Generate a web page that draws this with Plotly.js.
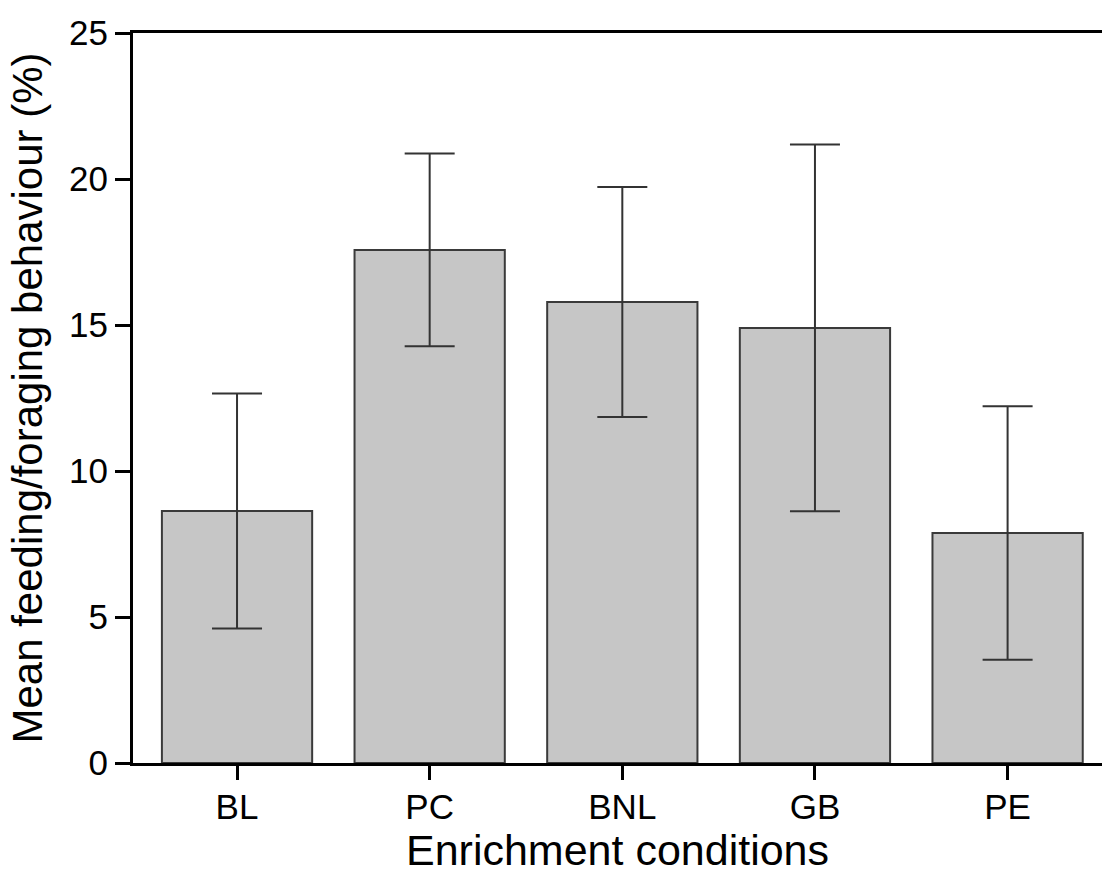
<!DOCTYPE html>
<html>
<head>
<meta charset="utf-8">
<script src="https://cdn.plot.ly/plotly-3.0.1.min.js"></script>
<style>html,body{margin:0;padding:0;background:#fff;}#chart{width:1102px;height:876px;}</style>
</head>
<body>
<div id="chart"></div>
<script>
const categories = ["BL", "PC", "BNL", "GB", "PE"];
const meanValues = [8.63, 17.57, 15.79, 14.90, 7.88];
const errorValues = [4.02, 3.30, 3.94, 6.28, 4.34];

const trace = {
  type: "bar",
  x: categories,
  y: meanValues,
  width: 0.78,
  marker: { color: "#c6c6c6", line: { color: "#3a3a3a", width: 2 } },
  error_y: { type: "data", array: errorValues, visible: true, color: "#333333", thickness: 2, width: 25 },
  hoverinfo: "none"
};

const fontFam = "Liberation Sans, Arial, Helvetica, sans-serif";

const layout = {
  width: 1102,
  height: 876,
  margin: { l: 133, r: 0, t: 33, b: 113, pad: 0 },
  paper_bgcolor: "#ffffff",
  plot_bgcolor: "#ffffff",
  showlegend: false,
  bargap: 0.22,
  xaxis: {
    type: "category",
    range: [-0.54, 4.49],
    showline: true,
    linecolor: "#000",
    linewidth: 3,
    mirror: true,
    ticks: "outside",
    ticklen: 14,
    tickwidth: 3,
    tickcolor: "#000",
    ticklabelstandoff: -3,
    showgrid: false,
    zeroline: false,
    tickfont: { family: fontFam, size: 35, color: "#000" },
    title: { text: "Enrichment conditions", font: { family: fontFam, size: 43, color: "#000" }, standoff: 8 }
  },
  yaxis: {
    range: [0, 25],
    dtick: 5,
    tick0: 0,
    showline: true,
    linecolor: "#000",
    linewidth: 3,
    ticks: "outside",
    ticklen: 15,
    tickwidth: 3,
    tickcolor: "#000",
    showgrid: false,
    zeroline: false,
    tickfont: { family: fontFam, size: 35, color: "#000" },
    title: { text: "Mean feeding/foraging behaviour (%)", font: { family: fontFam, size: 42, color: "#000" }, standoff: 14 }
  }
};

Plotly.newPlot("chart", [trace], layout, { staticPlot: true, displayModeBar: false });
</script>
</body>
</html>
